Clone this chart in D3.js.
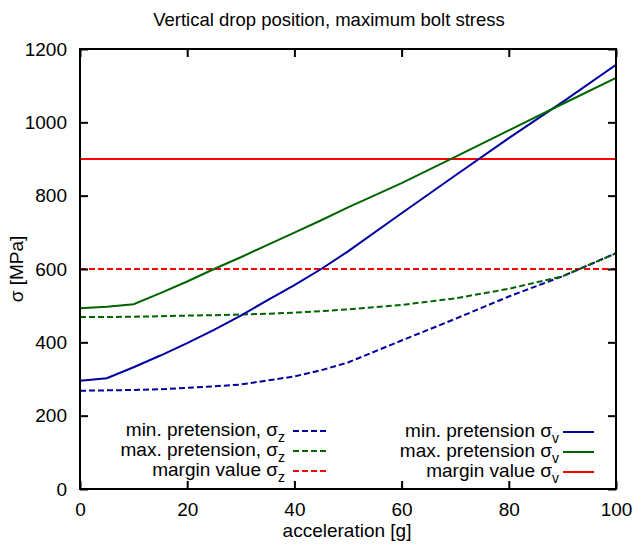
<!DOCTYPE html>
<html><head><meta charset="utf-8">
<script src="https://cdn.jsdelivr.net/npm/d3@7"></script>
<style>
html,body{margin:0;padding:0;background:#fff;}
text{font-family:"Liberation Sans",Arial,Helvetica,sans-serif;fill:#000;}
</style></head>
<body><svg id="c" width="637" height="551"></svg>
<script>
// ---- data ----
const accel = [0, 5, 10, 15, 20, 25, 30, 35, 40, 45, 50, 60, 70, 80, 90, 100];
const minSigmaV = [295, 302, 332, 364, 398, 434, 473, 515, 556, 600, 648, 752, 855, 957, 1055, 1157];
const maxSigmaV = [493, 497, 504, 534, 566, 600, 632, 666, 699, 733, 768, 834, 906, 978, 1050, 1121];
const minSigmaZ = [268, 269, 270, 272, 276, 280, 285, 296, 307, 324, 345, 405, 464, 525, 580, 643];
const maxSigmaZ = [469, 469, 470, 471, 473, 474, 476, 478, 481, 485, 490, 502, 520, 546, 580, 643];
const marginZ = 600;
const marginV = 900;
const xTicks = [0, 20, 40, 60, 80, 100];
const yTicks = [0, 200, 400, 600, 800, 1000, 1200];
const title = "Vertical drop position, maximum bolt stress";
const xLabel = "acceleration [g]";
const yLabel = "σ [MPa]";
const legendLeft = [
  {label: "min. pretension, σ", sub: "z", key: "minZ"},
  {label: "max. pretension, σ", sub: "z", key: "maxZ"},
  {label: "margin value σ", sub: "z", key: "marZ"}
];
const legendRight = [
  {label: "min. pretension σ", sub: "v", key: "minV"},
  {label: "max. pretension σ", sub: "v", key: "maxV"},
  {label: "margin value σ", sub: "v", key: "marV"}
];

// ---- styles ----
const BLUE = "#0000a0", GREEN = "#006400", RED = "#ff0000";
const DASH = "6,3";
const styles = {
  minZ: {color: BLUE, dash: DASH}, maxZ: {color: GREEN, dash: DASH}, marZ: {color: RED, dash: DASH},
  minV: {color: BLUE, dash: null}, maxV: {color: GREEN, dash: null}, marV: {color: RED, dash: null}
};

const svg = d3.select("#c");
const L = 80, R = 616, T = 49, B = 489;
const x = d3.scaleLinear().domain([0, 100]).range([L, R]);
const y = d3.scaleLinear().domain([0, 1200]).range([B, T]);
const FS = 19;

svg.append("defs").append("clipPath").attr("id", "clip")
  .append("rect").attr("x", L).attr("y", T).attr("width", R - L).attr("height", B - T);

const plot = svg.append("g").attr("clip-path", "url(#clip)");
const line = d3.line().x(d => x(d[0])).y(d => y(d[1]));
const zip = arr => accel.map((a, i) => [a, arr[i]]);

const series = [
  {key: "marZ", data: [[0, marginZ], [100, marginZ]]},
  {key: "marV", data: [[0, marginV], [100, marginV]]},
  {key: "minZ", data: zip(minSigmaZ)},
  {key: "maxZ", data: zip(maxSigmaZ)},
  {key: "minV", data: zip(minSigmaV)},
  {key: "maxV", data: zip(maxSigmaV)}
];
series.forEach(s => {
  const st = styles[s.key];
  plot.append("path").attr("d", line(s.data)).attr("fill", "none")
    .attr("stroke", st.color).attr("stroke-width", 2)
    .attr("stroke-dasharray", st.dash);
});

// axes with inward ticks on all sides
const TL = 8;
const axB = d3.axisBottom(x).tickValues(xTicks).tickSize(-TL).tickPadding(TL + 6).tickFormat(d3.format("d"));
const axT = d3.axisTop(x).tickValues(xTicks).tickSize(-TL).tickFormat("");
const axL = d3.axisLeft(y).tickValues(yTicks).tickSize(-TL).tickPadding(TL + 5).tickFormat(d3.format("d"));
const axR = d3.axisRight(y).tickValues(yTicks).tickSize(-TL).tickFormat("");
function styleAx(g) {
  g.selectAll(".domain").remove();
  g.selectAll(".tick line").attr("stroke", "#000").attr("stroke-width", 2);
  g.selectAll(".tick text").attr("font-size", FS).attr("font-family", '"Liberation Sans",Arial,sans-serif').attr("fill", "#000");
}
svg.append("g").attr("transform", `translate(0,${B})`).call(axB).call(styleAx);
svg.append("g").attr("transform", `translate(0,${T})`).call(axT).call(styleAx);
svg.append("g").attr("transform", `translate(${L},0)`).call(axL).call(styleAx);
svg.append("g").attr("transform", `translate(${R},0)`).call(axR).call(styleAx);

svg.append("rect").attr("x", L).attr("y", T).attr("width", R - L).attr("height", B - T)
  .attr("fill", "none").attr("stroke", "#000").attr("stroke-width", 2);

// labels
svg.append("text").attr("x", 329).attr("y", 26).attr("text-anchor", "middle").attr("font-size", 18.5).text(title);
svg.append("text").attr("x", 347).attr("y", 537).attr("text-anchor", "middle").attr("font-size", FS).text(xLabel);
svg.append("text").attr("transform", "translate(23,269) rotate(-90)").attr("text-anchor", "middle").attr("font-size", FS).text(yLabel);

// legend
function legend(items, textRight, x0, x1, y0) {
  items.forEach((it, i) => {
    const yy = y0 + i * 20;
    const t = svg.append("text").attr("x", textRight).attr("y", yy + 5).attr("text-anchor", "end").attr("font-size", FS);
    t.append("tspan").text(it.label);
    t.append("tspan").attr("font-size", 14).attr("dy", 6).text(it.sub);
    const st = styles[it.key];
    svg.append("line").attr("x1", x0).attr("x2", x1).attr("y1", yy).attr("y2", yy)
      .attr("stroke", st.color).attr("stroke-width", 2).attr("stroke-dasharray", st.dash);
  });
}
legend(legendLeft, 285, 293, 326, 431);
legend(legendRight, 559, 563, 594, 432);
</script></body></html>
